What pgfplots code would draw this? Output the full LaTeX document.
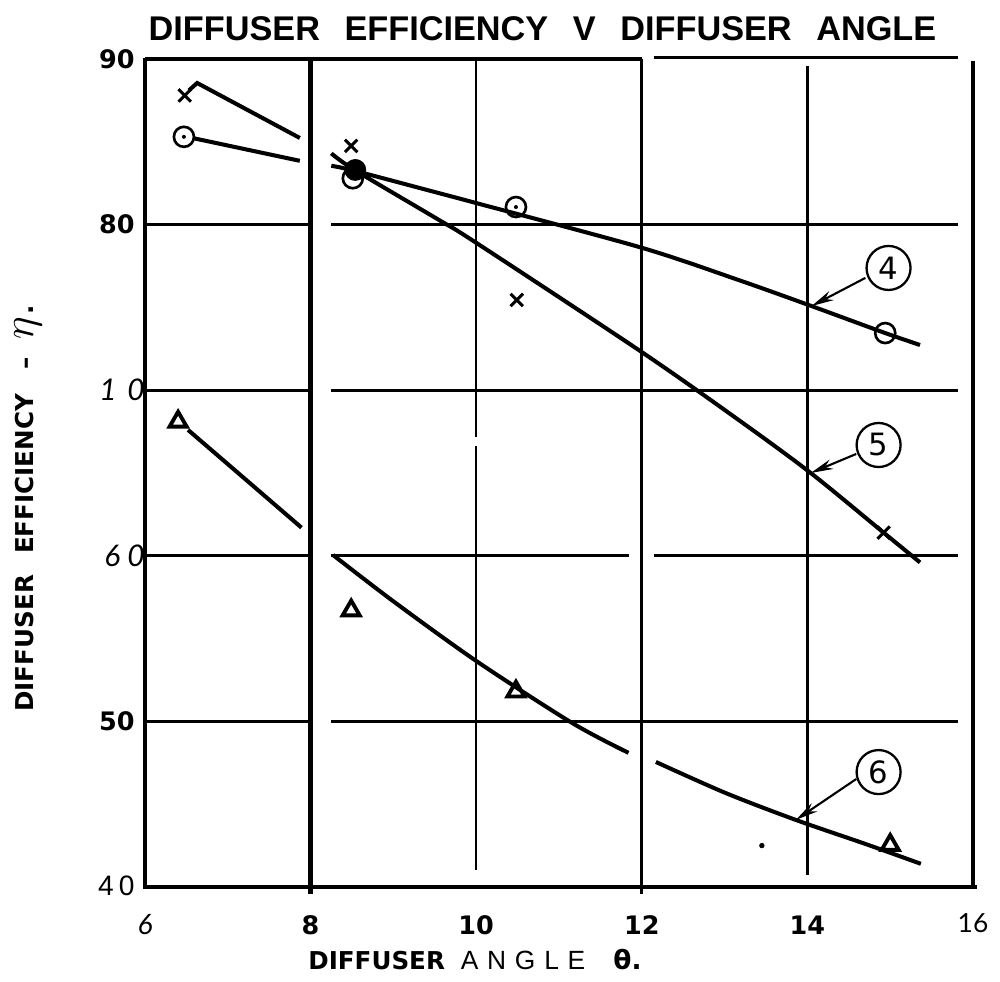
\documentclass[border=0pt]{standalone}
\usepackage{pgfplots}
\pgfplotsset{compat=1.18}
\usepackage{fontspec}
\usetikzlibrary{arrows.meta}
\newfontfamily\lib{Liberation Sans}
\newfontfamily\dv{DejaVu Sans}
\newfontfamily\lato{Lato}

\pgfdeclareplotmark{odot}{%
  \pgfpathcircle{\pgfpointorigin}{\pgfplotmarksize}\pgfusepathqstroke
  \pgfpathcircle{\pgfpointorigin}{0.2\pgfplotmarksize}\pgfusepathqfill}

\newcommand{\hv}{\dv\bfseries\fontsize{14.5}{15}\selectfont}

\begin{document}
\begin{tikzpicture}[x=1cm,y=1cm]
\useasboundingbox (0,0) rectangle (20,19.64);
\begin{axis}[at={(2.9cm,1.9cm)}, anchor=south west, scale only axis,
  width=16.56cm, height=16.56cm,
  xmin=6, xmax=16, ymin=40, ymax=90, clip=false,
  axis line style={draw=none}, major tick length=0pt,
  xtick={6,8,10,12,14,16},
  xticklabels={{\lato\itshape\fontsize{16}{16}\selectfont 6},{\hv 8},{\hv 10},{\hv 12},{\hv 14},{\raisebox{0.06cm}{\lato\fontsize{15}{15}\selectfont 16}}},
  ytick={40,50,60,70,80,90},
  yticklabels={{\raisebox{0.05cm}{\lib\fontsize{16}{16}\selectfont 4\hspace{3pt}0}},{\hv 50},{\lato\itshape\fontsize{17}{17}\selectfont 6\hspace{4pt}0\kern-0.2cm},{\lato\itshape\fontsize{17}{17}\selectfont 1\hspace{6pt}0\kern-0.2cm},{\hv 80},{\raisebox{-0.12cm}{\hv 90}}},
  xticklabel style={anchor=center, yshift=-0.76cm, inner sep=0pt},
  yticklabel style={anchor=east, xshift=-0.2cm, inner sep=0pt},
]
% frame and grid
\draw[line width=2.8pt] (axis cs:6,90.05) -- (axis cs:6,39.95);
\draw[line width=2.6pt] (axis cs:5.98,40) -- (axis cs:16.05,40);
\draw[line width=1.9pt] (axis cs:6,90) -- (axis cs:12,90);
\draw[line width=1.7pt] (axis cs:12.15,90.1) -- (axis cs:15.82,90.1);
\draw[line width=2.2pt] (axis cs:16,89.9) -- (axis cs:16,40);
\draw[line width=2.8pt] (axis cs:8,90) -- (axis cs:8,39.6);
\draw[line width=1.7pt] (axis cs:12,90) -- (axis cs:12,39.6);
\draw[line width=1.1pt] (axis cs:10,90) -- (axis cs:10,67.2) (axis cs:10,66.6) -- (axis cs:10,41);
\draw[line width=1.3pt] (axis cs:14,89.6) -- (axis cs:14,40.7);
\draw[line width=1.5pt] (axis cs:6,80) -- (axis cs:8,80) (axis cs:8.25,80) -- (axis cs:15.82,80);
\draw[line width=1.5pt] (axis cs:6,70) -- (axis cs:8,70) (axis cs:8.25,70) -- (axis cs:15.82,70);
\draw[line width=1.5pt] (axis cs:6,50) -- (axis cs:8,50) (axis cs:8.25,50) -- (axis cs:15.82,50);
\draw[line width=1.5pt] (axis cs:6,60) -- (axis cs:8,60) (axis cs:8.25,60) -- (axis cs:11.85,60) (axis cs:12.15,60) -- (axis cs:15.82,60);

% curve 4 (circles)
\addplot[line width=2.3pt, smooth] coordinates {(6.60,85.2) (7.87,83.85)};
\addplot[line width=2.3pt, smooth] coordinates {(8.25,83.55) (8.53,83.25) (9.55,81.9) (10,81.3) (12,78.6) (13.17,76.65) (14.05,75.08) (14.94,73.45) (15.36,72.73)};
\addplot[only marks, mark=odot, mark size=5.7pt, line width=1.5pt] coordinates {(6.47,85.3) (8.51,82.8) (10.48,81.06) (14.94,73.45)};
\addplot[only marks, mark=*, mark size=6pt] coordinates {(8.54,83.3)};

% curve 5 (crosses)
\addplot[line width=2.3pt, sharp plot] coordinates {(6.53,88.1) (6.63,88.55) (7.87,85.23)};
\addplot[line width=2.3pt, smooth] coordinates {(8.25,84.3) (8.53,83.3) (9.55,80.28) (10,78.9) (12,72.3) (13.17,68.2) (14.04,65.0) (14.92,61.4) (15.36,59.6)};
\addplot[only marks, mark=x, mark size=5pt, line width=1.7pt] coordinates {(6.48,87.8) (8.49,84.75) (10.49,75.45) (14.92,61.4)};

% curve 6 (triangles)
\addplot[line width=2.3pt, smooth] coordinates {(6.52,67.6) (7.18,64.76) (7.89,61.7)};
\addplot[line width=2.3pt, smooth] coordinates {(8.27,60.05) (9.0,57.25) (10,53.65) (11.16,49.9) (11.84,48.1)};
\addplot[line width=2.3pt, smooth] coordinates {(12.17,47.55) (13.01,45.68) (13.86,44.05) (14.70,42.6) (15.37,41.4)};
\addplot[only marks, mark=triangle, mark size=5.6pt, line width=2.2pt] coordinates {(6.40,68.1) (8.49,56.7) (10.48,51.8) (15.0,42.54)};
\addplot[only marks, mark=*, mark size=1.3pt] coordinates {(13.45,42.5)};

% circled labels
\draw[line width=1.3pt] (axis cs:14.98,77.38) circle[radius=0.44cm];
\node at (axis cs:14.98,77.38) {\dv\fontsize{17.5}{18}\selectfont 4};
\draw[line width=1.2pt, -{Stealth[length=0.45cm,width=0.2cm]}] (axis cs:14.70,76.78) -- (axis cs:14.05,75.08);
\draw[line width=1.3pt] (axis cs:14.86,66.69) circle[radius=0.44cm];
\node at (axis cs:14.86,66.69) {\dv\fontsize{17.5}{18}\selectfont 5};
\draw[line width=1.2pt, -{Stealth[length=0.45cm,width=0.2cm]}] (axis cs:14.59,66.15) -- (axis cs:14.04,65.0);
\draw[line width=1.3pt] (axis cs:14.86,46.94) circle[radius=0.44cm];
\node at (axis cs:14.86,46.94) {\dv\fontsize{17.5}{18}\selectfont 6};
\draw[line width=1.2pt, -{Stealth[length=0.45cm,width=0.2cm]}] (axis cs:14.59,46.52) -- (axis cs:13.86,44.05);
\end{axis}

% title
\node at (10.85,19.06) {\lib\bfseries\fontsize{19.5}{20}\selectfont DIFFUSER\hspace{14pt}EFFICIENCY\hspace{14pt}V\hspace{14pt}DIFFUSER\hspace{14pt}ANGLE};
% x label
\node[anchor=base west, inner sep=0pt] at (6.16,0.25) {{\dv\bfseries\fontsize{14}{14}\selectfont DIFFUSER}\hspace{9pt}{\lib\fontsize{15}{15}\selectfont A\hspace{5pt}N\hspace{5pt}G\hspace{5pt}L\hspace{5pt}E}\hspace{16pt}{\dv\bfseries\fontsize{15}{15}\selectfont θ.}};
% y label
\node[rotate=90, anchor=base west, inner sep=0pt] at (0.66,5.4) {{\dv\bfseries\fontsize{14}{14}\selectfont DIFFUSER\hspace{12pt}EFFICIENCY\hspace{14pt}–\hspace{10pt}}{\fontsize{28}{28}\selectfont$\eta$\hspace{1pt}{\dv\bfseries\fontsize{14}{14}\selectfont .}}};
\end{tikzpicture}
\end{document}
